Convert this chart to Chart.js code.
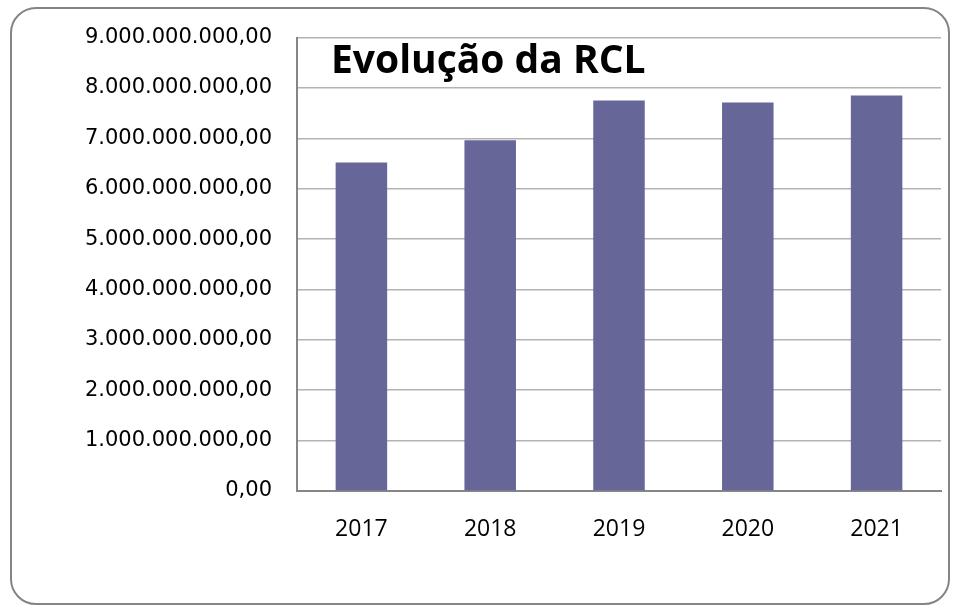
<!DOCTYPE html>
<html>
<head>
<meta charset="utf-8">
<script src="https://cdn.jsdelivr.net/npm/chart.js@4"></script>
<style>
  html, body { margin: 0; padding: 0; background: #fff; }
  #wrap { position: relative; width: 959px; height: 611px; }
  #frame {
    position: absolute; left: 10px; top: 7px; width: 936px; height: 594px;
    border: 2px solid #858585; border-radius: 26px; box-sizing: content-box;
  }
  canvas { position: absolute; left: 0; top: 0; }
</style>
</head>
<body>
<div id="wrap">
  <div id="frame"></div>
  <canvas id="rclChart" width="959" height="611"></canvas>
</div>
<script>
// chart data
const years = ['2017', '2018', '2019', '2020', '2021'];
const rclValues = [6520000000, 6960000000, 7750000000, 7710000000, 7850000000];
const chartTitle = 'Evolução da RCL';

// format like 9.000.000.000,00
function formatBR(v) {
    return v.toLocaleString('pt-BR', { minimumFractionDigits: 2, maximumFractionDigits: 2 });
}

// title drawn inside the plot area
const innerTitle = {
    id: 'innerTitle',
    afterDraw(chart) {
        const { ctx, chartArea } = chart;
        ctx.save();
        ctx.font = 'bold 39px "Open Sans", sans-serif';
        ctx.fillStyle = '#000';
        ctx.textBaseline = 'alphabetic';
        ctx.fillText(chartTitle, chartArea.left + 34, 73);
        ctx.restore();
    }
};

const ctx = document.getElementById('rclChart').getContext('2d');
new Chart(ctx, {
    type: 'bar',
    data: {
        labels: years,
        datasets: [{
            data: rclValues,
            backgroundColor: '#666699',
            barPercentage: 0.4,
            categoryPercentage: 1
        }]
    },
    options: {
        responsive: false,
        animation: false,
        layout: { padding: { left: 0, right: 18, top: 37, bottom: 0 } },
        plugins: {
            legend: { display: false },
            tooltip: { enabled: false }
        },
        scales: {
            x: {
                grid: { display: false },
                border: { color: '#868686', width: 2 },
                ticks: {
                    color: '#000',
                    padding: 17,
                    font: { family: 'Open Sans', size: 23 }
                },
                afterFit: s => { s.height = 120; }
            },
            y: {
                min: 0,
                max: 9000000000,
                grid: { color: '#b3b3b3', lineWidth: 1.5, drawTicks: false },
                border: { color: '#868686', width: 2 },
                ticks: {
                    stepSize: 1000000000,
                    color: '#000',
                    padding: 25,
                    font: { family: 'DejaVu Sans', size: 21 },
                    callback: v => formatBR(v)
                },
                afterFit: s => { s.width = 297; }
            }
        }
    },
    plugins: [innerTitle]
});
</script>
</body>
</html>
